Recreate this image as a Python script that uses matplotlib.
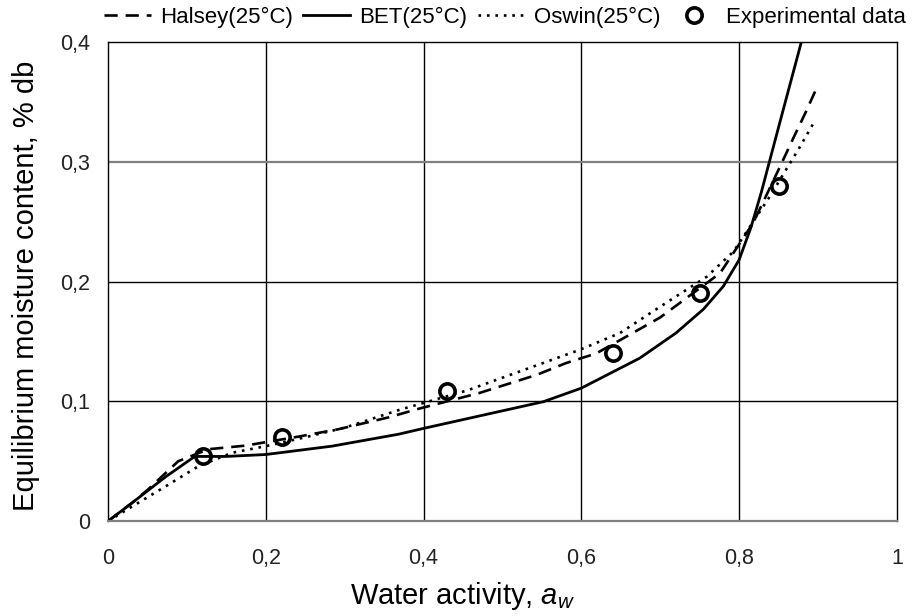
import numpy as np
import matplotlib
matplotlib.use('Agg')
import matplotlib.pyplot as plt
from matplotlib.ticker import FuncFormatter

plt.rcParams.update({'font.family': 'Liberation Sans', 'mathtext.fontset': 'custom',
                     'mathtext.rm': 'Liberation Sans', 'mathtext.it': 'Liberation Sans:italic'})

### experimental points
aw_exp = [0.12, 0.22, 0.43, 0.64, 0.75, 0.85]
m_exp = [0.054, 0.070, 0.109, 0.140, 0.190, 0.280]

### Halsey(25°C)
aw_halsey = [0, 0.03, 0.05, 0.089, 0.127, 0.174, 0.241, 0.292, 0.355, 0.395, 0.471, 0.543,
             0.581, 0.619, 0.657, 0.70, 0.776, 0.818, 0.852, 0.869, 0.885, 0.898]
m_halsey = [0, 0.015, 0.026, 0.050, 0.060, 0.063, 0.0705, 0.0767, 0.0865, 0.094, 0.107, 0.122,
            0.132, 0.140, 0.154, 0.170, 0.207, 0.249, 0.296, 0.320, 0.342, 0.361]

### BET(25°C)
aw_bet = [0, 0.03, 0.073, 0.11, 0.15, 0.20, 0.284, 0.368, 0.40, 0.552, 0.60, 0.674, 0.72,
          0.755, 0.78, 0.80, 0.815, 0.828, 0.853, 0.879, 0.886]
m_bet = [0, 0.015, 0.037, 0.054, 0.054, 0.0556, 0.0626, 0.0725, 0.0774, 0.0997, 0.111, 0.136, 0.157,
         0.177, 0.196, 0.218, 0.245, 0.274, 0.336, 0.400, 0.418]

### Oswin(25°C)
aw_oswin = [0, 0.03, 0.073, 0.115, 0.157, 0.20, 0.25, 0.30, 0.37, 0.455, 0.539, 0.598, 0.649,
            0.70, 0.759, 0.793, 0.839, 0.862, 0.875, 0.896]
m_oswin = [0, 0.012, 0.029, 0.046, 0.057, 0.0626, 0.070, 0.078, 0.093, 0.109, 0.129, 0.143, 0.157,
           0.179, 0.204, 0.225, 0.271, 0.296, 0.310, 0.334]

x_ticks = [0, 0.2, 0.4, 0.6, 0.8, 1.0]
y_ticks = [0, 0.1, 0.2, 0.3, 0.4]

fig = plt.figure(figsize=(9.17, 6.16), dpi=100)
ax = fig.add_axes([0.1178, 0.154, 0.8602, 0.778])

# grid drawn by hand so the 0,3 line can be grey like the original
for x in x_ticks[1:-1]:
    ax.axvline(x, color='black', lw=1.0, zorder=0)
for y in y_ticks[1:-1]:
    c = '#808080' if y == 0.3 else 'black'
    ax.axhline(y, color=c, lw=1.6 if y == 0.3 else 1.0, zorder=0)

ax.plot(aw_halsey, m_halsey, color='black', lw=1.9, linestyle=(0, (5, 3)), label='Halsey(25°C)')
ax.plot(aw_bet, m_bet, color='black', lw=2.0, linestyle='-', label='BET(25°C)')
ax.plot(aw_oswin, m_oswin, color='black', lw=1.9, linestyle=(0, (1, 2.2)), label='Oswin(25°C)')
ax.plot(aw_exp, m_exp, linestyle='none', marker='o', markersize=11, markerfacecolor='none',
        markeredgecolor='black', markeredgewidth=2.6, label='Experimental data')

ax.set_xlim(0, 1)
ax.set_ylim(0, 0.4)
ax.set_xticks(x_ticks)
ax.set_yticks(y_ticks)
fmt = FuncFormatter(lambda v, p: ('%g' % round(v, 2)).replace('.', ','))
ax.xaxis.set_major_formatter(fmt)
ax.yaxis.set_major_formatter(fmt)
ax.tick_params(axis='x', length=0, pad=19, labelsize=15.5, labelcolor='#222222')
ax.tick_params(axis='y', length=0, pad=13, labelsize=15.5, labelcolor='#222222')

for s in ['top', 'right', 'left']:
    ax.spines[s].set_color('black')
    ax.spines[s].set_linewidth(1.0)
ax.spines['bottom'].set_color('#808080')
ax.spines['bottom'].set_linewidth(1.6)

ax.set_xlabel('Water activity, $a_w$', fontsize=21)
ax.set_ylabel('Equilibrium moisture content, % db', fontsize=21)
ax.xaxis.set_label_coords(0.449, -0.122)
ax.yaxis.set_label_coords(-0.086, 0.49)

fig.legend(loc='center', bbox_to_anchor=(0.551, 0.972), ncol=4, frameon=False, fontsize=16,
           handlelength=2.1, handletextpad=0.43, columnspacing=0.45, borderpad=0)

fig.savefig('out.png', dpi=100)
